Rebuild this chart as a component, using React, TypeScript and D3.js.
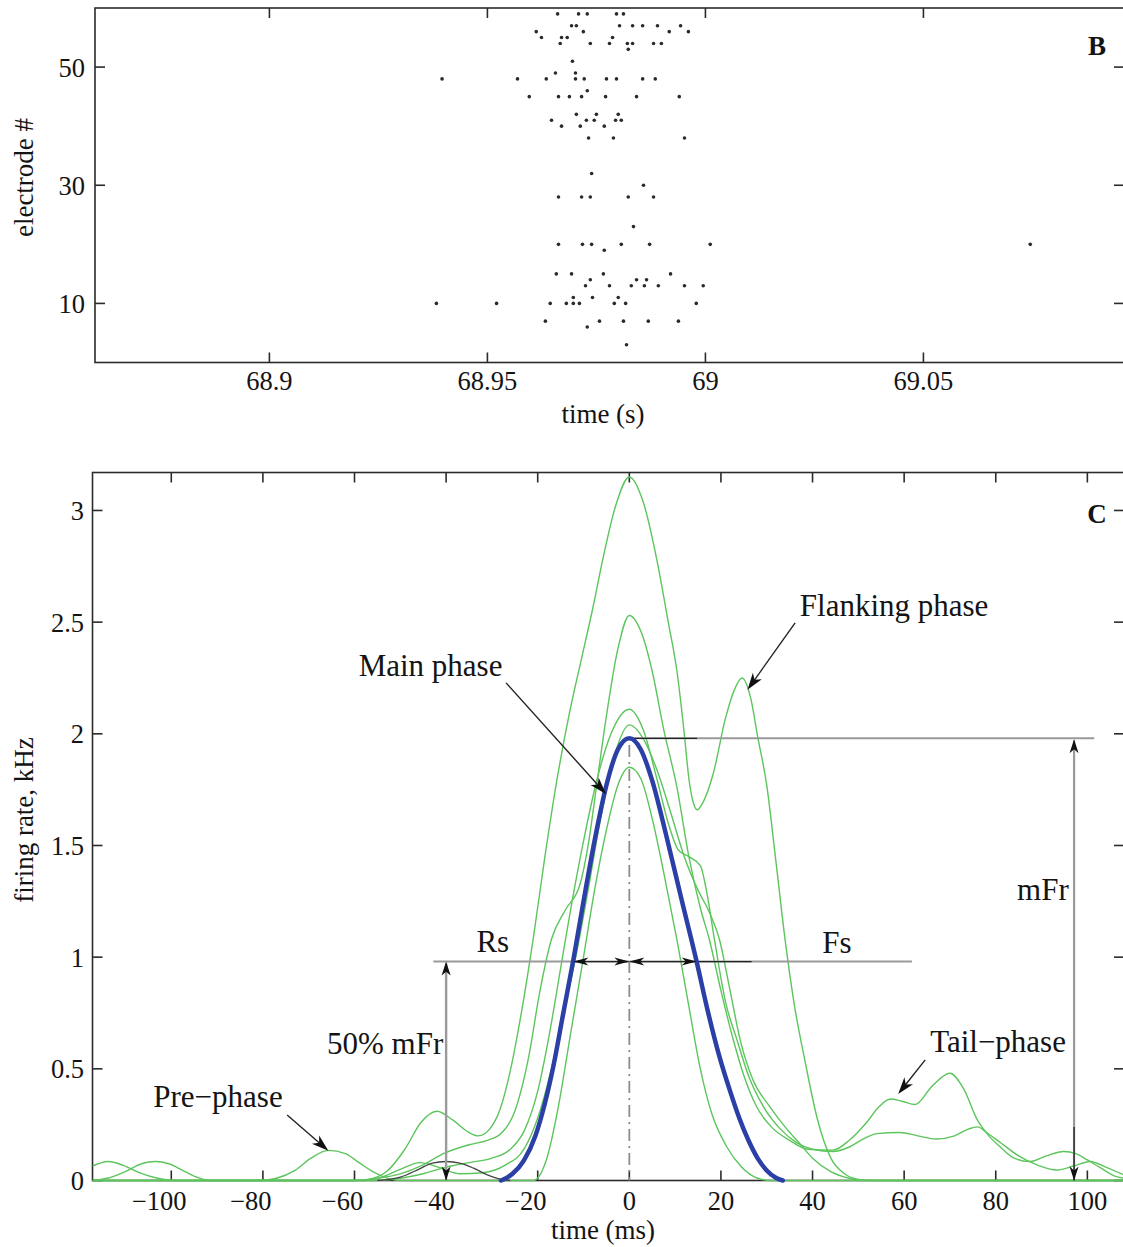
import React from "react";
import * as d3 from "d3";

// ---------- Panel B: spike raster (electrode #, spike times in s) ----------
const rasterElectrodes = [59, 57, 56, 55, 54, 53, 51, 49, 48, 46, 45, 42, 41, 40, 38, 32, 30, 28, 23, 20, 19, 15, 14, 13, 11, 10, 7, 6, 3];
const rasterTimes: number[][] = [
  [68.9661, 68.9709, 68.9729, 68.9796, 68.9812],
  [68.9693, 68.9704, 68.9803, 68.9833, 68.9856, 68.989, 68.9943],
  [68.9612, 68.972, 68.9917, 68.9961],
  [68.9624, 68.967, 68.9683, 68.9787],
  [68.9667, 68.9736, 68.978, 68.9821, 68.9833, 68.9881, 68.9899],
  [68.9823],
  [68.9695],
  [68.9656, 68.9702],
  [68.9396, 68.9569, 68.9635, 68.9702, 68.9722, 68.9773, 68.9796, 68.9856, 68.9885],
  [68.9729],
  [68.9596, 68.9663, 68.9688, 68.9716, 68.9771, 68.9842, 68.994],
  [68.9704, 68.975, 68.98],
  [68.9647, 68.9727, 68.9745, 68.9794, 68.9807],
  [68.967, 68.9713, 68.9768],
  [68.9732, 68.9789, 68.9952],
  [68.9739],
  [68.9858],
  [68.9663, 68.9716, 68.9736, 68.9823, 68.9881],
  [68.9835],
  [68.9663, 68.9718, 68.9739, 68.9807, 68.9872, 69.0011, 69.0745],
  [68.9768],
  [68.9658, 68.9693, 68.9766, 68.992],
  [68.9736, 68.9842, 68.9865],
  [68.9725, 68.978, 68.983, 68.986, 68.9892, 68.9952, 68.9995],
  [68.9697, 68.9741, 68.98],
  [68.9383, 68.9521, 68.9644, 68.9681, 68.9697, 68.9711, 68.9791, 68.9817, 68.9979],
  [68.9633, 68.9757, 68.9812, 68.9869, 68.9938],
  [68.9729],
  [68.9819],
];
const rasterTimeTicks = [68.9, 68.95, 69, 69.05];
const rasterElectrodeTicks = [10, 30, 50];

// ---------- Panel C: firing-rate profiles, [time ms, rate kHz] ----------
const tallProfile: [number, number][] = [
  [-117.2, 0], [-60, 0], [-57, 0.005], [-53, 0.04], [-49, 0.14], [-45.5, 0.26], [-42, 0.31], [-38.5, 0.27],
  [-35, 0.215], [-33, 0.2], [-30.5, 0.23], [-28.2, 0.32], [-26, 0.49], [-23.5, 0.76], [-21, 1.08], [-18.5, 1.44],
  [-16, 1.77], [-13, 2.1], [-10.4, 2.34], [-8, 2.56], [-5.7, 2.79], [-3, 3.02], [0, 3.15], [3, 3.04], [6, 2.78],
  [8.5, 2.5], [10.4, 2.28], [12, 2.0], [13, 1.8], [14, 1.69], [14.8, 1.66], [16, 1.69], [18.3, 1.82], [21, 2.07],
  [23, 2.2], [24.6, 2.25], [26.5, 2.16], [28, 1.99], [30, 1.77], [32, 1.43], [34, 1.08], [36, 0.79], [38.4, 0.53],
  [41, 0.28], [44, 0.1], [47, 0.03], [50, 0.005], [53, 0], [108, 0],
];
const secondProfile: [number, number][] = [
  [-117.2, 0], [-114, 0.01], [-110, 0.04], [-106.5, 0.075], [-103.5, 0.085], [-100.5, 0.075], [-97, 0.04],
  [-94, 0.012], [-91, 0], [-60, 0], [-55, 0.01], [-50, 0.03], [-45, 0.07], [-40.6, 0.12], [-35, 0.16], [-31, 0.18],
  [-28, 0.21], [-25, 0.31], [-22, 0.55], [-19.5, 0.85], [-17, 1.08], [-14, 1.21], [-10.7, 1.33], [-9, 1.5],
  [-7.2, 1.76], [-5, 2.08], [-2.5, 2.38], [0, 2.53], [2.5, 2.46], [5, 2.28], [7.5, 2.02], [10.4, 1.76], [13, 1.45],
  [15.5, 1.22], [17.5, 1.077], [20, 0.85], [22.7, 0.63], [25, 0.47], [27.8, 0.33], [31, 0.24], [35, 0.18],
  [39, 0.14], [44.5, 0.136], [48, 0.18], [51.8, 0.26], [54.5, 0.33], [57, 0.365], [59.5, 0.355], [62.4, 0.34],
  [66, 0.42], [70, 0.48], [73, 0.41], [76, 0.27], [78.5, 0.2], [81, 0.15], [84, 0.1], [87.5, 0.085], [91, 0.11],
  [94.8, 0.13], [97.5, 0.12], [100, 0.092], [103, 0.055], [106, 0.02], [108, 0.01],
];
const shoulderProfile: [number, number][] = [
  [-117.2, 0], [-56, 0], [-50, 0.01], [-45, 0.03], [-40, 0.06], [-35, 0.08], [-30, 0.1], [-26, 0.14], [-23, 0.22],
  [-20, 0.4], [-17.5, 0.65], [-15, 0.95], [-12.5, 1.25], [-10, 1.52], [-7, 1.8], [-4, 2.0], [0, 2.11], [3, 2.02],
  [6, 1.8], [8.5, 1.6], [10.7, 1.48], [13, 1.45], [15.5, 1.41], [17, 1.28], [18.6, 1.077], [21, 0.8], [23.5, 0.63],
  [26, 0.47], [29.3, 0.33], [33, 0.23], [36.5, 0.17], [40, 0.14], [44.5, 0.13], [48, 0.15], [51, 0.185], [54, 0.21],
  [59, 0.215], [63, 0.2], [67, 0.186], [71, 0.2], [74, 0.23], [76, 0.24], [78, 0.215], [81, 0.17], [85, 0.11],
  [89, 0.07], [93.4, 0.047], [97, 0.065], [100.6, 0.085], [104, 0.06], [108, 0.025],
];
const fourthProfile: [number, number][] = [
  [-117.2, 0.065], [-113.8, 0.085], [-110.5, 0.068], [-107, 0.035], [-103, 0.01], [-99, 0], [-58, 0], [-54, 0.015],
  [-50, 0.05], [-45.7, 0.08], [-41, 0.055], [-37, 0.03], [-32, 0.035], [-27, 0.07], [-23, 0.14], [-20, 0.28],
  [-17, 0.5], [-14, 0.78], [-11.5, 1.02], [-9, 1.3], [-6, 1.65], [-3, 1.92], [0, 2.04], [3, 1.98], [6, 1.84],
  [9, 1.65], [12, 1.45], [15, 1.3], [17.5, 1.2], [19.7, 1.077], [22, 0.85], [24.2, 0.63], [27, 0.45], [30.7, 0.33],
  [34, 0.24], [37, 0.17], [40, 0.1], [44, 0.04], [48, 0.01], [51, 0], [108, 0],
];
const narrowProfile: [number, number][] = [
  [-117.2, 0], [-81, 0], [-77, 0.01], [-73, 0.045], [-69.5, 0.1], [-65.7, 0.135], [-62, 0.12], [-59, 0.08],
  [-56, 0.04], [-53, 0.012], [-50, 0], [-21, 0], [-18, 0.1], [-15.5, 0.33], [-12.8, 0.66], [-10, 1.0],
  [-7.5, 1.31], [-5, 1.57], [-2.5, 1.77], [0, 1.85], [2.5, 1.8], [5, 1.62], [7.5, 1.38], [10.4, 1.077], [13, 0.78],
  [15.5, 0.5], [18, 0.3], [21.3, 0.15], [24.5, 0.06], [28, 0.01], [31, 0], [108, 0],
];
const blackBump: [number, number][] = [
  [-55, 0], [-50, 0.015], [-46, 0.05], [-43, 0.078], [-40, 0.085], [-37, 0.078], [-34, 0.055], [-31, 0.025], [-28, 0.005], [-26, 0],
];
const meanProfile: [number, number][] = [
  [-28, 0], [-25.5, 0.03], [-23, 0.09], [-20.5, 0.2], [-18.5, 0.34], [-16.5, 0.52], [-14.5, 0.74], [-12.2, 0.99],
  [-10, 1.25], [-7.5, 1.53], [-5, 1.77], [-2.5, 1.93], [0, 1.98], [2.5, 1.93], [5, 1.79], [8, 1.55], [11.5, 1.25],
  [14.7, 0.98], [17, 0.77], [19.6, 0.56], [22, 0.4], [24, 0.28], [26, 0.18], [28, 0.1], [30, 0.045], [32, 0.012], [33.5, 0],
];
const greenProfiles = [tallProfile, secondProfile, shoulderProfile, fourthProfile, narrowProfile];

const rateTimeTicks = [-100, -80, -60, -40, -20, 0, 20, 40, 60, 80, 100];
const rateTicks = [0, 0.5, 1, 1.5, 2, 2.5, 3];

// measures of the mean profile
const mFr = 1.98;
const halfLevel = 0.98;
const riseCross = -12.2;
const fallCross = 14.7;

// annotation texts and arrows, in data units (ms, kHz)
const labelTexts = ["Main phase", "Flanking phase", "Pre\u2212phase", "Tail\u2212phase", "50% mFr", "Rs", "Fs", "mFr"];
const labelPos: [number, number][] = [[-43.4, 2.26], [57.8, 2.528], [-89.8, 0.33], [80.5, 0.577], [-53.3, 0.565], [-29.8, 1.025], [45.3, 1.017], [90.3, 1.256]];
const pointerFrom: [number, number][] = [[-26.9, 2.228], [36.2, 2.497], [-74.7, 0.293], [64.6, 0.54]];
const pointerTo: [number, number][] = [[-5.1, 1.731], [25.8, 2.197], [-65.7, 0.133], [58.7, 0.387]];

const W = 1123;
const H = 1247;
const serif = "'Liberation Serif', 'Times New Roman', serif";
const axisColor = "#2b2b2b";
const textColor = "#141414";

function arrowHead(x: number, y: number, angle: number, len = 14, wid = 9) {
  // notched filled arrowhead with tip at (x, y), pointing along angle (radians)
  const c = Math.cos(angle), s = Math.sin(angle);
  const pt = (a: number, b: number) => [x + a * c - b * s, y + a * s + b * c];
  const p1 = pt(-len, wid / 2), p2 = pt(-len * 0.72, 0), p3 = pt(-len, -wid / 2);
  return `M${x},${y}L${p1[0]},${p1[1]}L${p2[0]},${p2[1]}L${p3[0]},${p3[1]}Z`;
}

export default function App() {
  // scales
  const xB = d3.scaleLinear().domain([68.86, 69.096]).range([95, 1124]);
  const yB = d3.scaleLinear().domain([0, 60]).range([362.5, 8]);
  const xC = d3.scaleLinear().domain([-117.2, 108]).range([92.5, 1124]);
  const yC = d3.scaleLinear().domain([0, 3.17]).range([1180.5, 472.5]);

  const line = d3
    .line<[number, number]>()
    .x((d) => xC(d[0]))
    .y((d) => yC(d[1]))
    .curve(d3.curveMonotoneX);

  const tick = 10;
  const [bx0, bx1] = xB.range();
  const [by0, by1] = yB.range();
  const [cx0, cx1] = xC.range();
  const [cy0, cy1] = yC.range();

  const fmtMinus = (v: number) => String(v).replace("-", "\u2212");

  const halfY = yC(halfLevel);
  const mFrY = yC(mFr);

  return (
    <div style={{ position: "absolute", left: 0, top: 0 }}>
      <svg width={W} height={H} viewBox={`0 0 ${W} ${H}`} style={{ display: "block", background: "#fff" }}>
        <defs>
          <clipPath id="clipC">
            <rect x={cx0} y={cy1} width={cx1 - cx0} height={cy0 - cy1 + 3} />
          </clipPath>
        </defs>

        {/* ================= Panel B ================= */}
        <g fontFamily={serif} fill={textColor}>
          <rect x={bx0} y={by1} width={bx1 - bx0} height={by0 - by1} fill="none" stroke={axisColor} strokeWidth={1.6} />
          {rasterTimeTicks.map((t) => (
            <g key={"bt" + t}>
              <line x1={xB(t)} x2={xB(t)} y1={by0} y2={by0 - tick} stroke={axisColor} strokeWidth={1.6} />
              <line x1={xB(t)} x2={xB(t)} y1={by1} y2={by1 + tick} stroke={axisColor} strokeWidth={1.6} />
              <text x={xB(t)} y={390} textAnchor="middle" fontSize={26.5}>
                {String(t)}
              </text>
            </g>
          ))}
          {rasterElectrodeTicks.map((e) => (
            <g key={"be" + e}>
              <line x1={bx0} x2={bx0 + tick} y1={yB(e)} y2={yB(e)} stroke={axisColor} strokeWidth={1.6} />
              <line x1={bx1} x2={bx1 - tick} y1={yB(e)} y2={yB(e)} stroke={axisColor} strokeWidth={1.6} />
              <text x={85} y={yB(e) + 9.5} textAnchor="end" fontSize={26.5}>
                {String(e)}
              </text>
            </g>
          ))}
          {rasterElectrodes.map((e, i) =>
            rasterTimes[i].map((t, j) => (
              <circle key={`s${e}-${j}`} cx={xB(t)} cy={yB(e)} r={1.8} fill="#2a2a2a" />
            ))
          )}
          <text x={603} y={423} textAnchor="middle" fontSize={27}>
            time (s)
          </text>
          <text transform={`translate(33,177.5) rotate(-90)`} textAnchor="middle" fontSize={27}>
            electrode #
          </text>
          <text x={1097} y={55} textAnchor="middle" fontSize={27} fontWeight="bold">
            B
          </text>
        </g>

        {/* ================= Panel C ================= */}
        <g fontFamily={serif} fill={textColor}>
          <rect x={cx0} y={cy1} width={cx1 - cx0} height={cy0 - cy1} fill="none" stroke={axisColor} strokeWidth={1.6} />
          {rateTimeTicks.map((t) => (
            <g key={"ct" + t}>
              <line x1={xC(t)} x2={xC(t)} y1={cy0} y2={cy0 - tick} stroke={axisColor} strokeWidth={1.6} />
              <line x1={xC(t)} x2={xC(t)} y1={cy1} y2={cy1 + tick} stroke={axisColor} strokeWidth={1.6} />
              <text x={xC(t) - (t < 0 ? 12 : 0)} y={1210} textAnchor="middle" fontSize={26.5}>
                {fmtMinus(t)}
              </text>
            </g>
          ))}
          {rateTicks.map((r) => (
            <g key={"cr" + r}>
              <line x1={cx0} x2={cx0 + tick} y1={yC(r)} y2={yC(r)} stroke={axisColor} strokeWidth={1.6} />
              <line x1={cx1} x2={cx1 - tick} y1={yC(r)} y2={yC(r)} stroke={axisColor} strokeWidth={1.6} />
              <text x={84} y={yC(r) + 9.5} textAnchor="end" fontSize={26.5}>
                {String(r)}
              </text>
            </g>
          ))}

          <g clipPath="url(#clipC)" fill="none">
            {greenProfiles.map((p, i) => (
              <path key={"g" + i} d={line(p) || ""} stroke="#5cc55c" strokeWidth={1.4} />
            ))}
            <path d={line(blackBump) || ""} stroke="#444" strokeWidth={1.3} />
          </g>

          {/* half-maximum level with rise / fall spans */}
          <line x1={xC(-42.8)} x2={xC(61.7)} y1={halfY} y2={halfY} stroke="#9a9a9a" strokeWidth={2} />
          <line x1={xC(riseCross)} x2={xC(26.7)} y1={halfY} y2={halfY} stroke="#222" strokeWidth={1.3} />
          {/* peak level */}
          <line x1={xC(0)} x2={xC(101.5)} y1={mFrY} y2={mFrY} stroke="#9a9a9a" strokeWidth={2} />
          <line x1={xC(0)} x2={xC(14.8)} y1={mFrY} y2={mFrY} stroke="#222" strokeWidth={1.3} />
          {/* zero-time reference */}
          <line x1={xC(0)} x2={xC(0)} y1={yC(mFr - 0.03)} y2={yC(0)} stroke="#8c8c8c" strokeWidth={1.8} strokeDasharray="12,5,2,5" />
          {/* 50% mFr vertical */}
          <line x1={xC(-40)} x2={xC(-40)} y1={halfY + 2} y2={yC(0) - 2} stroke="#9a9a9a" strokeWidth={2.4} />
          <path d={arrowHead(xC(-40), halfY, -Math.PI / 2)} fill="#111" />
          <path d={arrowHead(xC(-40), yC(0), Math.PI / 2)} fill="#111" />
          {/* mFr vertical */}
          <line x1={xC(97.1)} x2={xC(97.1)} y1={mFrY + 2} y2={yC(0)} stroke="#9a9a9a" strokeWidth={2.2} />
          <line x1={xC(97.1)} x2={xC(97.1)} y1={yC(0.24)} y2={yC(0)} stroke="#222" strokeWidth={1.3} />
          <path d={arrowHead(xC(97.1), mFrY + 1, -Math.PI / 2)} fill="#111" />
          <path d={arrowHead(xC(97.1), yC(0), Math.PI / 2)} fill="#111" />

          {/* mean profile */}
          <path d={line(meanProfile) || ""} fill="none" stroke="#2b3fa6" strokeWidth={4.5} strokeLinecap="round" clipPath="url(#clipC)" />

          {/* Rs / Fs arrow heads */}
          <path d={arrowHead(xC(riseCross), halfY, Math.PI, 15, 8)} fill="#111" />
          <path d={arrowHead(xC(0), halfY, 0, 15, 8)} fill="#111" />
          <path d={arrowHead(xC(0), halfY, Math.PI, 15, 8)} fill="#111" />
          <path d={arrowHead(xC(fallCross), halfY, 0, 15, 8)} fill="#111" />

          {/* pointer arrows */}
          {pointerFrom.map((f, i) => {
            const x1 = xC(f[0]), y1 = yC(f[1]);
            const x2 = xC(pointerTo[i][0]), y2 = yC(pointerTo[i][1]);
            const ang = Math.atan2(y2 - y1, x2 - x1);
            return (
              <g key={"pa" + i}>
                <line x1={x1} y1={y1} x2={x2 - 8 * Math.cos(ang)} y2={y2 - 8 * Math.sin(ang)} stroke="#222" strokeWidth={1.4} />
                <path d={arrowHead(x2, y2, ang, 17, 11)} fill="#111" />
              </g>
            );
          })}

          {labelTexts.map((s, i) => (
            <text key={"lb" + i} x={xC(labelPos[i][0])} y={yC(labelPos[i][1])} textAnchor="middle" fontSize={31}>
              {s}
            </text>
          ))}

          <text x={603} y={1239} textAnchor="middle" fontSize={27}>
            time (ms)
          </text>
          <text transform={`translate(33,820) rotate(-90)`} textAnchor="middle" fontSize={27}>
            firing rate, kHz
          </text>
          <text x={1097} y={523} textAnchor="middle" fontSize={27} fontWeight="bold">
            C
          </text>
        </g>
      </svg>
    </div>
  );
}
